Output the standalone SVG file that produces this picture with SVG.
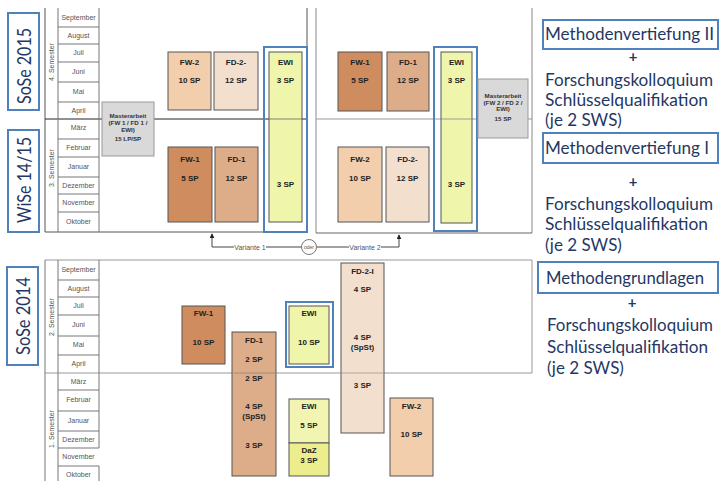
<svg xmlns="http://www.w3.org/2000/svg" width="719" height="481" viewBox="0 0 719 481">
<style>
.frame{fill:none;stroke:#555;stroke-width:1}
.gframe{fill:none;stroke:#999;stroke-width:1}
.mon{font-family:"Liberation Sans",Arial,sans-serif;font-size:7px;fill:#555;text-anchor:middle}
.sem{font-family:"Liberation Sans",Arial,sans-serif;font-size:7px;fill:#555;text-anchor:middle}
.box{stroke:#555;stroke-width:1}
.lbl{font-family:"Liberation Sans",Arial,sans-serif;font-size:8px;font-weight:bold;fill:#222;text-anchor:middle}
.ma{font-family:"Liberation Sans",Arial,sans-serif;font-size:6.2px;font-weight:bold;fill:#333;text-anchor:middle}
.fw1{fill:#CF8C5E}
.fd1{fill:#DDAC88}
.fw2{fill:#F2CEAC}
.fd2{fill:#F3DFCD}
.ewi{fill:#EFF5AA}
.daz{fill:#ECEE8E}
.mab{fill:#D9D9D9;stroke:#999;stroke-width:1}
.blue{fill:none;stroke:#4F81BD;stroke-width:2}
.yr{fill:#fff;stroke:#4F81BD;stroke-width:2}
.yt{font-family:Lato,"Open Sans",sans-serif;font-size:19px;fill:#1F3864;text-anchor:middle}
.rt{font-family:Lato,"Open Sans",sans-serif;font-size:17px;fill:#1F3864}
.plus{font-family:Lato,"Open Sans",sans-serif;font-size:15px;font-weight:bold;fill:#1F3864;text-anchor:middle}
.var{font-family:"Liberation Sans",Arial,sans-serif;font-size:7px;fill:#555;text-anchor:middle}
.conn{fill:none;stroke:#444;stroke-width:1}
</style>
<defs>
<marker id="arr" viewBox="0 0 6 6" refX="5" refY="3" markerWidth="5" markerHeight="5" orient="auto">
<path d="M0,0 L6,3 L0,6 z" fill="#222"/>
</marker>
</defs>

<!-- Year labels -->
<g id="year-sose2015">
<rect class="yr" x="8" y="13" width="31" height="97"/>
<text class="yt" transform="translate(31,66) rotate(-90)" textLength="76" lengthAdjust="spacingAndGlyphs">SoSe 2015</text>
</g>
<g id="year-wise1415">
<rect class="yr" x="8" y="130" width="31" height="102"/>
<text class="yt" transform="translate(31,180) rotate(-90)" textLength="86" lengthAdjust="spacingAndGlyphs">WiSe 14/15</text>
</g>
<g id="year-sose2014">
<rect class="yr" x="7" y="267" width="31" height="98"/>
<text class="yt" transform="translate(30,316) rotate(-90)" textLength="78" lengthAdjust="spacingAndGlyphs">SoSe 2014</text>
</g>

<!-- Upper chart frames -->
<g id="upper-left-frame">
<line x1="45" y1="8" x2="45" y2="232" stroke="#555"/>
<line x1="45" y1="232" x2="307" y2="232" stroke="#555"/>
<line x1="307" y1="8" x2="307" y2="232" stroke="#555"/>
<line x1="45" y1="119" x2="307" y2="119" stroke="#222"/>
</g>
<g id="upper-right-frame">
<line x1="316" y1="8" x2="316" y2="233" stroke="#888"/>
<line x1="532" y1="8" x2="532" y2="233" stroke="#888"/>
<line x1="316" y1="233" x2="532" y2="233" stroke="#666"/>
<line x1="316" y1="119" x2="532" y2="119" stroke="#999"/>
</g>

<!-- Upper month column -->
<g id="upper-months">
<line x1="58" y1="8" x2="58" y2="232" stroke="#777"/>
<line x1="99" y1="8" x2="99" y2="232" stroke="#777"/>
<g stroke="#777">
<line x1="58" y1="27" x2="99" y2="27"/>
<line x1="58" y1="44" x2="99" y2="44"/>
<line x1="58" y1="62" x2="99" y2="62"/>
<line x1="58" y1="82" x2="99" y2="82"/>
<line x1="58" y1="102" x2="99" y2="102"/>
<line x1="58" y1="139" x2="99" y2="139"/>
<line x1="58" y1="157" x2="99" y2="157"/>
<line x1="58" y1="177" x2="99" y2="177"/>
<line x1="58" y1="194" x2="99" y2="194"/>
<line x1="58" y1="212" x2="99" y2="212"/>
</g>
<text class="mon" x="78.5" y="20">September</text>
<text class="mon" x="78.5" y="38">August</text>
<text class="mon" x="78.5" y="55">Juli</text>
<text class="mon" x="78.5" y="74">Juni</text>
<text class="mon" x="78.5" y="94">Mai</text>
<text class="mon" x="78.5" y="113">April</text>
<text class="mon" x="78.5" y="130">März</text>
<text class="mon" x="78.5" y="150">Februar</text>
<text class="mon" x="78.5" y="169">Januar</text>
<text class="mon" x="78.5" y="188">Dezember</text>
<text class="mon" x="78.5" y="205">November</text>
<text class="mon" x="78.5" y="224">Oktober</text>
<text class="sem" transform="translate(54,62) rotate(-90)">4. Semester</text>
<text class="sem" transform="translate(54,168) rotate(-90)">3. Semester</text>
</g>

<!-- Upper left (Variante 1) boxes -->
<g id="v1-masterarbeit">
<rect class="mab" x="102" y="102" width="52" height="54"/>
<text class="ma" x="128" y="118">Masterarbeit</text>
<text class="ma" x="128" y="125">(FW 1 / FD 1 /</text>
<text class="ma" x="128" y="132">EWI)</text>
<text class="ma" x="128" y="141">15 LP/SP</text>
</g>
<g id="v1-fw2">
<rect class="box fw2" x="168" y="52" width="43" height="58"/>
<text class="lbl" x="189.5" y="65">FW-2</text>
<text class="lbl" x="189.5" y="83">10 SP</text>
</g>
<g id="v1-fd2">
<rect class="box fd2" x="214" y="52" width="44" height="58"/>
<text class="lbl" x="236" y="65">FD-2-</text>
<text class="lbl" x="236" y="83">12 SP</text>
</g>
<g id="v1-fw1">
<rect class="box fw1" x="168" y="147" width="44" height="75"/>
<text class="lbl" x="190" y="162">FW-1</text>
<text class="lbl" x="190" y="181">5 SP</text>
</g>
<g id="v1-fd1">
<rect class="box fd1" x="215" y="147" width="43" height="75"/>
<text class="lbl" x="236.5" y="162">FD-1</text>
<text class="lbl" x="236.5" y="181">12 SP</text>
</g>
<g id="v1-ewi">
<rect class="box ewi" x="269" y="52" width="33" height="170"/>
<line x1="269" y1="119" x2="302" y2="119" stroke="#666" stroke-width="0.8"/>
<text class="lbl" x="285.5" y="65">EWI</text>
<text class="lbl" x="285.5" y="83">3 SP</text>
<text class="lbl" x="285.5" y="187">3 SP</text>
<rect class="blue" x="264" y="47" width="43" height="185"/>
</g>

<!-- Upper right (Variante 2) boxes -->
<g id="v2-fw1">
<rect class="box fw1" x="338" y="52" width="44" height="59"/>
<text class="lbl" x="360" y="65">FW-1</text>
<text class="lbl" x="360" y="83">5 SP</text>
</g>
<g id="v2-fd1">
<rect class="box fd1" x="387" y="52" width="42" height="59"/>
<text class="lbl" x="408" y="65">FD-1</text>
<text class="lbl" x="408" y="83">12 SP</text>
</g>
<g id="v2-fw2">
<rect class="box fw2" x="338" y="147" width="44" height="75"/>
<text class="lbl" x="360" y="162">FW-2</text>
<text class="lbl" x="360" y="181">10 SP</text>
</g>
<g id="v2-fd2">
<rect class="box fd2" x="386" y="147" width="43" height="75"/>
<text class="lbl" x="407.5" y="162">FD-2-</text>
<text class="lbl" x="407.5" y="181">12 SP</text>
</g>
<g id="v2-ewi">
<rect class="box ewi" x="441" y="52" width="31" height="171"/>
<line x1="441" y1="119" x2="472" y2="119" stroke="#888" stroke-width="0.8"/>
<text class="lbl" x="456.5" y="65">EWI</text>
<text class="lbl" x="456.5" y="83">3 SP</text>
<text class="lbl" x="456.5" y="187">3 SP</text>
<rect class="blue" x="434" y="47" width="43" height="184"/>
</g>
<g id="v2-masterarbeit">
<rect class="mab" x="478" y="79" width="50" height="59"/>
<text class="ma" x="503" y="98">Masterarbeit</text>
<text class="ma" x="503" y="105">(FW 2 / FD 2 /</text>
<text class="ma" x="503" y="111">EWI)</text>
<text class="ma" x="503" y="121">15 SP</text>
</g>

<!-- Connectors: Variante 1 / oder / Variante 2 -->
<g id="connectors">
<path class="conn" d="M301.5,247 H212 V234" marker-end="url(#arr)"/>
<path class="conn" d="M316.5,247 H399 V235" marker-end="url(#arr)"/>
<rect x="234" y="242" width="32" height="9" fill="#fff"/>
<text class="var" x="250" y="249.5">Variante 1</text>
<rect x="349" y="242" width="32" height="9" fill="#fff"/>
<text class="var" x="365" y="249.5">Variante 2</text>
</g>
<g id="oder">
<circle cx="309" cy="247" r="7.5" fill="#fff" stroke="#555" stroke-width="0.8"/>
<text class="var" x="309" y="249" style="font-size:5px">oder</text>
</g>

<!-- Lower chart frame -->
<g id="lower-frame">
<line x1="45" y1="260" x2="532" y2="260" stroke="#999"/>
<line x1="45" y1="260" x2="45" y2="481" stroke="#777"/>
<line x1="532" y1="260" x2="532" y2="373" stroke="#999"/>
<line x1="45" y1="373" x2="532" y2="373" stroke="#999"/>
</g>
<g id="lower-months">
<line x1="58" y1="260" x2="58" y2="481" stroke="#777"/>
<line x1="99" y1="260" x2="99" y2="448" stroke="#777"/>
<line x1="99" y1="466" x2="99" y2="481" stroke="#777"/>
<g stroke="#777">
<line x1="58" y1="280" x2="99" y2="280"/>
<line x1="58" y1="297" x2="99" y2="297"/>
<line x1="58" y1="315" x2="99" y2="315"/>
<line x1="58" y1="336" x2="99" y2="336"/>
<line x1="58" y1="355" x2="99" y2="355"/>
<line x1="58" y1="390" x2="99" y2="390"/>
<line x1="58" y1="411" x2="99" y2="411"/>
<line x1="58" y1="431" x2="99" y2="431"/>
<line x1="58" y1="448" x2="99" y2="448"/>
<line x1="58" y1="466" x2="99" y2="466"/>
</g>
<text class="mon" x="78.5" y="272">September</text>
<text class="mon" x="78.5" y="291">August</text>
<text class="mon" x="78.5" y="308">Juli</text>
<text class="mon" x="78.5" y="327">Juni</text>
<text class="mon" x="78.5" y="347">Mai</text>
<text class="mon" x="78.5" y="366">April</text>
<text class="mon" x="78.5" y="384">März</text>
<text class="mon" x="78.5" y="402">Februar</text>
<text class="mon" x="78.5" y="423">Januar</text>
<text class="mon" x="78.5" y="442">Dezember</text>
<text class="mon" x="78.5" y="459">November</text>
<text class="mon" x="78.5" y="477">Oktober</text>
<text class="sem" transform="translate(54,317) rotate(-90)">2. Semester</text>
<text class="sem" transform="translate(54,429) rotate(-90)">1. Semester</text>
</g>

<!-- Lower boxes -->
<g id="l-fw1">
<rect class="box fw1" x="182" y="306" width="43" height="58"/>
<text class="lbl" x="203.5" y="316">FW-1</text>
<text class="lbl" x="203.5" y="345">10 SP</text>
</g>
<g id="l-fd1">
<rect class="box fd1" x="232" y="332" width="44" height="144"/>
<line x1="232" y1="373" x2="276" y2="373" stroke="#888" stroke-width="0.8"/>
<text class="lbl" x="254" y="343">FD-1</text>
<text class="lbl" x="254" y="362">2 SP</text>
<text class="lbl" x="254" y="381">2 SP</text>
<text class="lbl" x="254" y="409">4 SP</text>
<text class="lbl" x="254" y="419">(SpSt)</text>
<text class="lbl" x="254" y="448">3 SP</text>
</g>
<g id="l-ewi10">
<rect class="box ewi" x="289" y="306" width="40" height="58"/>
<text class="lbl" x="309" y="316">EWI</text>
<text class="lbl" x="309" y="345">10 SP</text>
<rect class="blue" x="286" y="302" width="47" height="65"/>
</g>
<g id="l-ewi5">
<rect class="box" x="289" y="399" width="40" height="44" fill="#F2F5B2"/>
<text class="lbl" x="309" y="409">EWI</text>
<text class="lbl" x="309" y="428">5 SP</text>
</g>
<g id="l-daz">
<rect class="box daz" x="289" y="443" width="40" height="33"/>
<text class="lbl" x="309" y="453">DaZ</text>
<text class="lbl" x="309" y="463">3 SP</text>
</g>
<g id="l-fd2">
<rect class="box fd2" x="341" y="263" width="43" height="170"/>
<line x1="341" y1="373" x2="384" y2="373" stroke="#999" stroke-width="0.8"/>
<text class="lbl" x="362.5" y="274">FD-2-I</text>
<text class="lbl" x="362.5" y="292">4 SP</text>
<text class="lbl" x="362.5" y="340">4 SP</text>
<text class="lbl" x="362.5" y="350">(SpSt)</text>
<text class="lbl" x="362.5" y="388">3 SP</text>
</g>
<g id="l-fw2">
<rect class="box fw2" x="390" y="398" width="43" height="78"/>
<text class="lbl" x="411.5" y="409">FW-2</text>
<text class="lbl" x="411.5" y="437">10 SP</text>
</g>

<!-- Right side texts -->
<g id="mv2">
<rect x="543" y="20" width="175" height="29" fill="#fff" stroke="#4F81BD" stroke-width="2"/>
<text class="rt" x="545" y="40" textLength="169" lengthAdjust="spacingAndGlyphs">Methodenvertiefung II</text>
<text class="plus" x="633" y="62">+</text>
<text class="rt" x="545" y="86" textLength="168" lengthAdjust="spacingAndGlyphs">Forschungskolloquium</text>
<text class="rt" x="545" y="106" textLength="163" lengthAdjust="spacingAndGlyphs">Schlüsselqualifikation</text>
<text class="rt" x="545" y="126">(je 2 SWS)</text>
</g>
<g id="mv1">
<rect x="543" y="133" width="175" height="30" fill="#fff" stroke="#4F81BD" stroke-width="2"/>
<text class="rt" x="545" y="154" textLength="164" lengthAdjust="spacingAndGlyphs">Methodenvertiefung I</text>
<text class="plus" x="633" y="187">+</text>
<text class="rt" x="545" y="210" textLength="168" lengthAdjust="spacingAndGlyphs">Forschungskolloquium</text>
<text class="rt" x="545" y="230" textLength="163" lengthAdjust="spacingAndGlyphs">Schlüsselqualifikation</text>
<text class="rt" x="545" y="251">(je 2 SWS)</text>
</g>
<g id="mg">
<rect x="538" y="262" width="180" height="31" fill="#fff" stroke="#4F81BD" stroke-width="2"/>
<text class="rt" x="546" y="284" textLength="158" lengthAdjust="spacingAndGlyphs">Methodengrundlagen</text>
<text class="plus" x="632" y="308">+</text>
<text class="rt" x="547" y="331" textLength="166" lengthAdjust="spacingAndGlyphs">Forschungskolloquium</text>
<text class="rt" x="547" y="353" textLength="161" lengthAdjust="spacingAndGlyphs">Schlüsselqualifikation</text>
<text class="rt" x="547" y="374">(je 2 SWS)</text>
</g>
</svg>
